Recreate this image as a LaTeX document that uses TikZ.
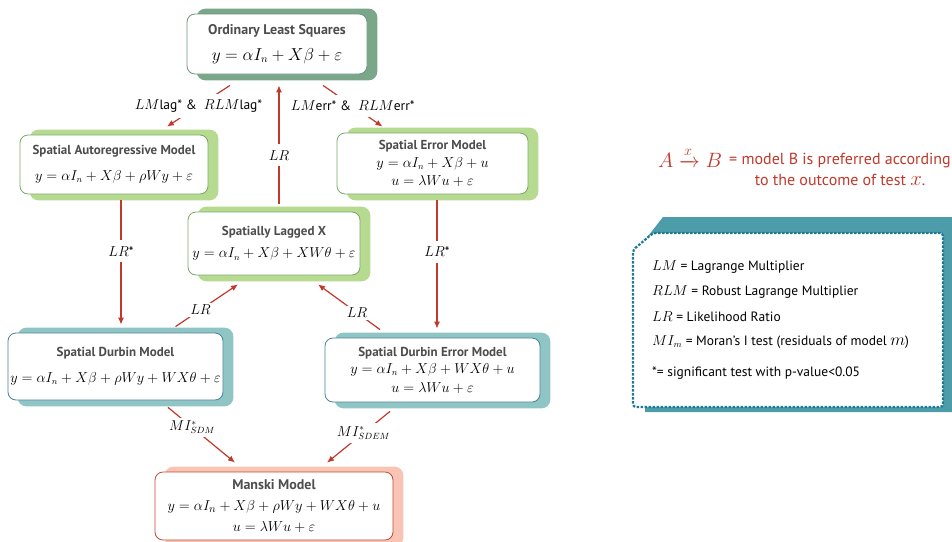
\documentclass[tikz,border=0pt]{standalone}
\usepackage{amsmath}
\usepackage{amssymb}
\usepackage[no-math]{fontspec}
\setsansfont{PT Sans}
\usetikzlibrary{arrows.meta,backgrounds}
\definecolor{rojo}{RGB}{192,57,43}
\definecolor{gristit}{RGB}{77,77,77}
\definecolor{olsfondo}{RGB}{122,166,138}
\definecolor{olsborde}{RGB}{105,150,122}
\definecolor{verde}{RGB}{183,218,145}
\definecolor{verdeborde}{RGB}{120,170,100}
\definecolor{durbin}{RGB}{143,197,196}
\definecolor{durbinborde}{RGB}{75,130,150}
\definecolor{salmon}{RGB}{249,196,180}
\definecolor{salmonborde}{RGB}{192,75,55}
\definecolor{leyfondo}{RGB}{76,156,170}
\definecolor{leyborde}{RGB}{30,122,145}
\newcommand{\titulo}[2][13]{{\sffamily\bfseries\fontsize{#1}{#1}\selectfont\color{gristit}#2}}
\newcommand{\sombra}[2]{\fill[#2,rounded corners=9pt] ([xshift=10pt,yshift=5pt]#1.north west) rectangle ([xshift=10pt,yshift=-6pt]#1.south east);}
\tikzset{
  modelo/.style={draw, fill=white, rounded corners=8pt, line width=0.8pt, align=center, inner sep=2pt,
    font=\fontsize{13.5}{13.5}\selectfont},
  flecha/.style={draw=rojo, line width=1.2pt, -{Latex[length=7pt,width=6pt]}},
  etiq/.style={fill=white, inner xsep=2pt, inner ysep=6pt, font=\sffamily\fontsize{13.5}{13.5}\selectfont},
  leyenda/.style={anchor=west, inner sep=0pt, font=\sffamily\fontsize{13.5}{13.5}\selectfont}
}

\begin{document}
\begin{tikzpicture}[x=1pt,y=-1pt]
  \useasboundingbox (0,0) rectangle (952,541);

  % Modelos
  \node[modelo, draw=olsborde, minimum width=180pt, minimum height=60pt] (ols) at (277,44)
    {\titulo[14]{Ordinary Least Squares}\\[10pt] {\fontsize{16}{16}\selectfont $y=\alpha I_n+X\beta+\varepsilon$}};
  \node[modelo, draw=verdeborde, minimum width=188pt, minimum height=59pt] (sar) at (114,164.5)
    {\titulo{Spatial Autoregressive Model}\\[12pt] $y=\alpha I_n+X\beta+\rho Wy+\varepsilon$};
  \node[modelo, draw=verdeborde, minimum width=191pt, minimum height=61pt] (sem) at (432.5,163.5)
    {\titulo{Spatial Error Model}\\[4pt] $y=\alpha I_n+X\beta+u$\\[5pt] $u=\lambda Wu+\varepsilon$};
  \node[modelo, draw=verdeborde, minimum width=172pt, minimum height=63pt] (slx) at (274,243.5)
    {\titulo{Spatially Lagged X}\\[9pt] $y=\alpha I_n+X\beta+XW\theta+\varepsilon$};
  \node[modelo, draw=durbinborde, minimum width=215pt, minimum height=67pt] (sdm) at (115.5,366.5)
    {\titulo{Spatial Durbin Model}\\[12pt] $y=\alpha I_n+X\beta+\rho Wy+WX\theta+\varepsilon$};
  \node[modelo, draw=durbinborde, minimum width=215pt, minimum height=64pt] (sdem) at (432.5,370)
    {\titulo{Spatial Durbin Error Model}\\[4pt] $y=\alpha I_n+X\beta+WX\theta+u$\\[5pt] $u=\lambda Wu+\varepsilon$};
  \node[modelo, draw=salmonborde, minimum width=238pt, minimum height=68pt, font=\fontsize{15}{15}\selectfont] (manski) at (274,506)
    {\titulo[14]{Manski Model}\\[6pt] $y=\alpha I_n+X\beta+\rho Wy+WX\theta+u$\\[6pt] $u=\lambda Wu+\varepsilon$};

  % Sombras
  \begin{scope}[on background layer]
    \sombra{ols}{olsfondo}
    \sombra{sar}{verde}
    \sombra{sem}{verde}
    \sombra{slx}{verde}
    \sombra{sdm}{durbin}
    \sombra{sdem}{durbin}
    \sombra{manski}{salmon}
  \end{scope}

  % Pruebas
  \draw[flecha] ([shift={(-47,11)}]ols.south) -- node[etiq] (tlag) {$LM$lag* \&\ \ $RLM$lag*} ([shift={(53,-8)}]sar.north);
  \draw[flecha] ([shift={(46,11)}]ols.south) -- node[etiq] (terr) {$LM$err* \&\ \ $RLM$err*} ([shift={(-50,-6)}]sem.north);
  \draw[flecha] ([shift={(5,-8)}]slx.north) -- node[etiq, pos=0.41] (tslx) {$LR$} ([shift={(2,11)}]ols.south);
  \draw[flecha] ([shift={(7,6)}]sar.south) -- node[etiq, pos=0.41] (tsar) {$LR$*} ([shift={(5.5,-8)}]sdm.north);
  \draw[flecha] ([shift={(4.5,6)}]sem.south) -- node[etiq, pos=0.4] (tsem) {$LR$*} ([shift={(4.5,-9)}]sdem.north);
  \draw[flecha] ([shift={(60,-6)}]sdm.north) -- node[etiq, inner ysep=2pt, pos=0.4] (tsdm) {$LR$} ([shift={(-36,9)}]slx.south);
  \draw[flecha] ([shift={(-52.5,-8)}]sdem.north) -- node[etiq, inner ysep=2pt, pos=0.37] (tsdem) {$LR$} ([shift={(44,9)}]slx.south);
  \draw[flecha] ([shift={(52.5,7)}]sdm.south) -- node[etiq, inner ysep=3pt, pos=0.36] (tmisdm) {$MI^{*}_{SDM}$} ([shift={(-39,-9)}]manski.north);
  \draw[flecha] ([shift={(-42.5,9)}]sdem.south) -- node[etiq, inner ysep=3pt, pos=0.42] (tmisdem) {$MI^{*}_{SDEM}$} ([shift={(53,-9)}]manski.north);

  % Leyenda
  \node[text=rojo, inner sep=0pt] (formula) at (690,157) {\fontsize{21}{21}\selectfont $A\xrightarrow{x}B$};
  \node[text=rojo, align=center, inner sep=0pt, font=\sffamily\fontsize{16}{21}\selectfont] (explica) at (840,169)
    {= model B is preferred according\\ to the outcome of test {\fontsize{20}{21}\selectfont$x$}.};
  \fill[leyfondo] (645,240) -- (663,217) -- (952,217) -- (952,412) -- (645,412) -- cycle;
  \draw[leyborde, fill=white, line width=2.2pt, dash pattern=on 2.5pt off 1.5pt, rounded corners=3pt]
    (633,250) -- (653,233) -- (943,233) -- (943,407) -- (633,407) -- cycle;
  \foreach \y/\t in {267/{$LM$ = Lagrange Multiplier}, 292/{$RLM$ = Robust Lagrange Multiplier},
      317/{$LR$ = Likelihood Ratio}, 342/{$MI_m$ = Moran’s I test (residuals of model {\fontsize{17}{17}\selectfont$m$})},
      373/{*= significant test with p-value<0.05}}
    \node[leyenda] (ley\y) at (652,\y) {\t};
\end{tikzpicture}
\end{document}
